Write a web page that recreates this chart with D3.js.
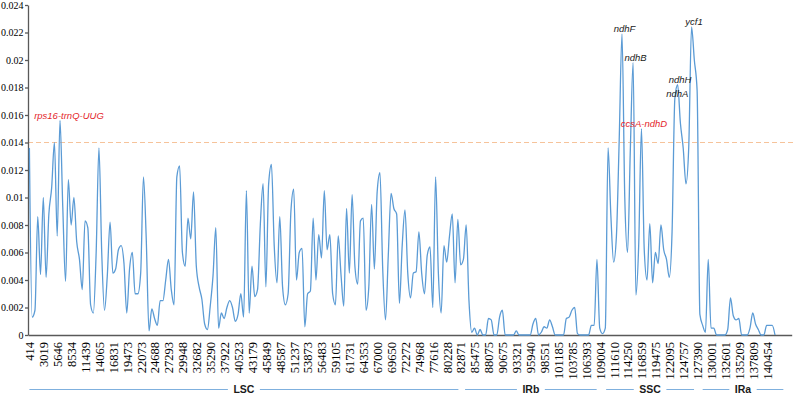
<!DOCTYPE html>
<html>
<head>
<meta charset="utf-8">
<script src="https://cdn.jsdelivr.net/npm/d3@7"></script>
<style>
  body { margin: 0; background: #fff; }
  svg { display: block; }
</style>
</head>
<body>
<div id="chart"></div>
<script>
// Nucleotide diversity (Pi) along the plastome, one value per sliding window
const piValues = [
  0.0136, 0.0013, 0.0018, 0.0086, 0.0044, 0.0100, 0.0042, 0.0088, 0.0107, 0.0140,
  0.0072, 0.0156, 0.0093, 0.0039, 0.0113, 0.0080, 0.0100, 0.0068, 0.0055, 0.0033,
  0.0083, 0.0078, 0.0022, 0.0016, 0.0060, 0.0136, 0.0060, 0.0018, 0.0043, 0.0082,
  0.0045, 0.0048, 0.0062, 0.0065, 0.0052, 0.0016, 0.0048, 0.0060, 0.0030, 0.0030,
  0.0045, 0.0115, 0.0070, 0.0003, 0.0019, 0.0012, 0.0007, 0.0025, 0.0025, 0.0040,
  0.0055, 0.0033, 0.0022, 0.0115, 0.0123, 0.0060, 0.0050, 0.0085, 0.0070, 0.0104,
  0.0050, 0.0035, 0.0026, 0.0008, 0.0004, 0.0021, 0.0043, 0.0078, 0.0005, 0.0016,
  0.0012, 0.0020, 0.0025, 0.0020, 0.0010, 0.0015, 0.0030, 0.0013, 0.0105, 0.0016,
  0.0050, 0.0028, 0.0033, 0.0080, 0.0110, 0.0035, 0.0110, 0.0124, 0.0065, 0.0038,
  0.0086, 0.0035, 0.0022, 0.0030, 0.0090, 0.0106, 0.0040, 0.0060, 0.0063, 0.0006,
  0.0030, 0.0032, 0.0085, 0.0040, 0.0073, 0.0056, 0.0105, 0.0062, 0.0073, 0.0030,
  0.0022, 0.0072, 0.0044, 0.0021, 0.0092, 0.0045, 0.0102, 0.0050, 0.0037, 0.0083,
  0.0085, 0.0018, 0.0035, 0.0095, 0.0048, 0.0104, 0.0118, 0.0048, 0.0011, 0.0058,
  0.0103, 0.0092, 0.0088, 0.0023, 0.0065, 0.0091, 0.0045, 0.0027, 0.0045, 0.0046,
  0.0075, 0.0045, 0.0030, 0.0058, 0.0064, 0.0020, 0.0115, 0.0045, 0.0016, 0.0065,
  0.0053, 0.0072, 0.0088, 0.0038, 0.0084, 0.0051, 0.0055, 0.0080, 0.0025, 0.0002,
  0.0005, 0, 0.0004, 0, 0, 0.0012, 0.0011, 0, 0, 0.0013,
  0.0018, 0, 0, 0, 0, 0.0003, 0, 0, 0, 0,
  0, 0.0008, 0.0012, 0, 0.0002, 0.0006, 0.0005, 0.0011, 0.0006, 0,
  0, 0, 0, 0.0012, 0.0013, 0.0018, 0.0020, 0.0001, 0, 0,
  0, 0, 0.0007, 0.0007, 0.0055, 0.0005, 0.0001, 0.0005, 0.0136, 0.0087,
  0.0053, 0.0072, 0.0142, 0.0219, 0.0100, 0.0060, 0.0135, 0.0198, 0.0029, 0.0065,
  0.0150, 0.0062, 0.0040, 0.0081, 0.0038, 0.0060, 0.0052, 0.0080, 0.0062, 0.0055,
  0.0042, 0.0075, 0.0172, 0.0182, 0.0154, 0.0136, 0.0110, 0.0137, 0.0224, 0.0200,
  0.0178, 0.0015, 0.0007, 0.0002, 0.0055, 0.0005, 0.0005, 0, 0, 0,
  0, 0.0004, 0.0027, 0.0014, 0.0011, 0.0012, 0, 0, 0, 0.0005,
  0.0016, 0.0008, 0.0004, 0, 0, 0.0007, 0.0007, 0.0007, 0
];

// Window midpoints printed on the x axis (one every 5 windows)
const tickLabels = [
  "414", "3019", "5646", "8534", "11439", "14065", "16831", "19473", "22073", "24688",
  "27293", "29948", "32682", "35290", "37922", "40523", "43179", "45849", "48587", "51237",
  "53873", "56483", "59105", "61731", "64353", "67000", "69650", "72272", "74968", "77616",
  "80228", "82871", "85475", "88075", "90675", "93321", "95940", "98551", "101185", "103785",
  "106393", "109004", "111610", "114250", "116859", "119475", "122095", "124757", "127390", "130001",
  "132601", "135209", "137809", "140454"
];
const windowsPerTick = 5;

// Plastome regions (in window units)
const regionNames = ["LSC", "IRb", "SSC", "IRa"];
const regionStart = [0, 156.6, 207.3, 242];
const regionEnd = [154.2, 203.9, 238.9, 271];

// Highly variable regions
const peakNames = ["rps16-trnQ-UUG", "ndhF", "ndhB", "ccsA-ndhD", "ndhA", "ndhH", "ycf1"];
const peakWindows = [11, 213, 217, 220, 232, 233, 238];
const peakIntergenic = [true, false, false, true, false, false, false];

const threshold = 0.014;
const yTicks = [0, 0.002, 0.004, 0.006, 0.008, 0.01, 0.012, 0.014, 0.016, 0.018, 0.02, 0.022, 0.024];

// Setup
let w = 795, h = 394;
let svg = d3.select("#chart").append("svg").attr("width", w).attr("height", h);
let x = d3.scaleLinear().domain([-0.5, 274]).range([28, 791.7]);
let y = d3.scaleLinear().domain([0, 0.024]).range([335, 5]);
let serif = "'Liberation Serif', 'Times New Roman', serif";
let sans = "'Liberation Sans', Arial, sans-serif";

// Threshold line
svg.append("line")
  .attr("x1", x.range()[0]).attr("x2", w)
  .attr("y1", y(threshold)).attr("y2", y(threshold))
  .attr("stroke", "#f6c39a").attr("stroke-width", 1).attr("stroke-dasharray", "5,3");

// Y axis
let yAxis = svg.append("g").attr("transform", "translate(28,0)")
  .call(d3.axisLeft(y).tickValues(yTicks).tickSize(3).tickSizeOuter(0).tickPadding(1.5)
    .tickFormat((d) => +d.toFixed(3)));
yAxis.selectAll("text").style("font-family", serif).style("font-size", "10px").attr("fill", "#000");
yAxis.selectAll("line, path").attr("stroke", "#595959").attr("stroke-width", 1.3);

// X axis with vertical labels
let xAxis = svg.append("g").attr("transform", "translate(0," + y(0) + ")")
  .call(d3.axisBottom(x).tickValues(tickLabels.map((d, i) => i * windowsPerTick))
    .tickFormat((d, i) => tickLabels[i]).tickSize(0).tickSizeOuter(0));
xAxis.selectAll("text")
  .attr("transform", "rotate(-90)").attr("x", -7).attr("y", 0).attr("dy", "0.35em")
  .style("text-anchor", "end").style("font-family", serif).style("font-size", "12.5px").attr("fill", "#000");
xAxis.select("path").attr("stroke", "#595959").attr("stroke-width", 1.3);

// Pi curve
let line = d3.line().x((d, i) => x(i)).y((d) => y(d)).curve(d3.curveMonotoneX);
svg.append("path").datum(piValues)
  .attr("fill", "none").attr("stroke", "#5b9bd5").attr("stroke-width", 1.3)
  .attr("stroke-linejoin", "round").attr("d", line);

// Peak labels
let labelShift = { "rps16-trnQ-UUG": 9 };
peakNames.forEach((name, k) => {
  let i = peakWindows[k];
  svg.append("text")
    .attr("x", x(i) + (labelShift[name] || 2.5))
    .attr("y", y(piValues[i]) - 2)
    .attr("text-anchor", "middle")
    .style("font-family", sans).style("font-size", "9.5px").style("font-style", "italic")
    .attr("fill", peakIntergenic[k] ? "#e4262b" : "#1a1a1a")
    .text(name);
});

// Region bars under the axis
regionNames.forEach((name, k) => {
  let x0 = x(regionStart[k]), x1 = x(regionEnd[k]), mid = (x0 + x1) / 2;
  let t = svg.append("text").attr("x", mid).attr("y", 393).attr("text-anchor", "middle")
    .style("font-family", sans).style("font-size", "10.5px").style("font-weight", "bold")
    .attr("fill", "#1a1a1a").text(name);
  let half = t.node().getComputedTextLength() / 2 + 5.5;
  [[x0, mid - half], [mid + half, x1]].forEach((seg) => {
    svg.append("line").attr("x1", seg[0]).attr("x2", seg[1]).attr("y1", 389.5).attr("y2", 389.5)
      .attr("stroke", "#7fb0de").attr("stroke-width", 1);
  });
});
</script>
</body>
</html>
